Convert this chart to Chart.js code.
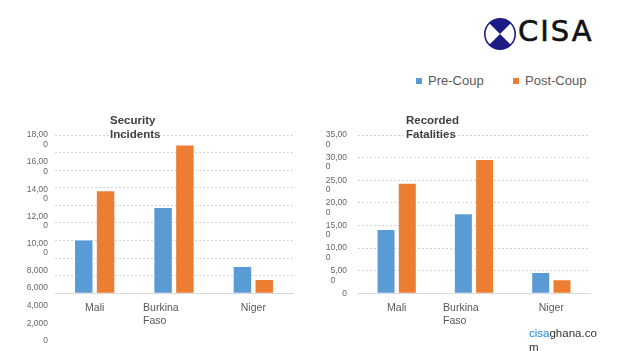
<!DOCTYPE html>
<html>
<head>
<meta charset="utf-8">
<script src="https://cdn.jsdelivr.net/npm/chart.js@4/dist/chart.umd.min.js"></script>
<style>
  body { margin: 0; background: #fff; font-family: "Liberation Sans", Arial, sans-serif; }
  #page { position: relative; width: 625px; height: 351px; overflow: hidden; background: #fff; }
  canvas { position: absolute; }
  .title { position: absolute; font-weight: bold; font-size: 11.5px; line-height: 13.6px; color: #404040; }
  .key { position: absolute; font-size: 13px; line-height: 14px; color: #595959; }
  .key i { position: absolute; left: -12px; top: 3.5px; width: 6px; height: 6px; }
  #site { position: absolute; left: 529px; top: 325.5px; font-size: 11.5px; line-height: 14px; color: #333; }
  #site span { color: #1e88e5; }
  #brand { position: absolute; left: 518px; top: 14px; font-family: "DejaVu Sans", sans-serif; font-size: 29px; letter-spacing: 2px; color: #111; -webkit-text-stroke: 0.6px #111; }
</style>
</head>
<body>
<div id="page">
  <svg style="position:absolute;left:483px;top:17px" width="34" height="34" viewBox="0 0 34 34">
    <circle cx="17" cy="17" r="15.2" fill="#fff" stroke="#1c1c85" stroke-width="1.6"/>
    <path d="M17 17 L6.25 6.25 A15.2 15.2 0 0 1 27.75 6.25 Z" fill="#1c1c85"/>
    <path d="M17 17 L6.25 27.75 A15.2 15.2 0 0 0 27.75 27.75 Z" fill="#1c1c85"/>
  </svg>
  <div id="brand">CISA</div>

  <div class="key" style="left:428px;top:74px"><i style="background:#5b9bd5"></i>Pre-Coup</div>
  <div class="key" style="left:525px;top:74px"><i style="background:#ed7d31"></i>Post-Coup</div>

  <canvas id="incidents" width="310" height="251" style="left:0;top:100px"></canvas>
  <canvas id="fatalities" width="315" height="251" style="left:310px;top:100px"></canvas>

  <div class="title" style="left:110px;top:114px">Security<br>Incidents</div>
  <div class="title" style="left:406px;top:114px">Recorded<br>Fatalities</div>

  <div id="site"><span>cisa</span>ghana.co<br>m</div>
</div>

<script>
const countries = ["Mali", "Burkina Faso", "Niger"];
const seriesNames = ["Pre-Coup", "Post-Coup"];

const incidentsPre = [6000, 9700, 3000];
const incidentsPost = [11600, 16800, 1500];
const incidentsMax = 18000;
const incidentsStep = 2000;

const fatalitiesPre = [14000, 17500, 4500];
const fatalitiesPost = [24200, 29500, 2900];
const fatalitiesMax = 35000;
const fatalitiesStep = 5000;

const blue = "#5b9bd5";
const orange = "#ed7d31";

// tick text too long for the label box loses its last digit to a second line
function tickLines(v, maxLen) {
  const s = v.toLocaleString("en-US");
  return s.length > maxLen ? [s.slice(0, -1), s.slice(-1)] : [s];
}

const axisText = {
  id: "axisText",
  afterDraw(chart, args, opts) {
    const ctx = chart.ctx;
    const area = chart.chartArea;
    const ys = chart.scales.y;
    const xs = chart.scales.x;
    ctx.save();
    ctx.textBaseline = "middle";

    // y labels
    ctx.fillStyle = "#666";
    ctx.font = '8.5px "Liberation Sans", Arial, sans-serif';
    const right = area.left - opts.gap;
    const lh = 9.5;
    let extra = 0;
    ys.ticks.slice().reverse().forEach((t) => {
      const lines = tickLines(t.value, opts.maxLen);
      let py = ys.getPixelForValue(t.value);
      if (opts.stack) py += extra * lh;
      const w = Math.max(...lines.map((l) => ctx.measureText(l).width));
      lines.forEach((l, k) => {
        if (opts.align === "right") {
          ctx.textAlign = "right";
          ctx.fillText(l, right, py + k * lh);
        } else {
          ctx.textAlign = "left";
          ctx.fillText(l, right - w, py + k * lh);
        }
      });
      extra += lines.length - 1;
    });

    // x labels
    ctx.fillStyle = "#595959";
    ctx.font = '10.5px "Liberation Sans", Arial, sans-serif';
    countries.forEach((c, i) => {
      const cx = xs.getPixelForValue(i);
      const full = ctx.measureText(c).width;
      const py = area.bottom + 15;
      if (full > 50) {
        ctx.textAlign = "left";
        c.split(" ").forEach((l, k) => ctx.fillText(l, cx - full / 2, py + k * 12.4));
      } else {
        ctx.textAlign = "center";
        ctx.fillText(c, cx, py);
      }
    });
    ctx.restore();
  },
};

function makeChart(id, pre, post, max, step, pad, textOpts) {
  return new Chart(document.getElementById(id), {
    type: "bar",
    data: {
      labels: countries,
      datasets: [
        { label: seriesNames[0], data: pre, backgroundColor: blue },
        { label: seriesNames[1], data: post, backgroundColor: orange },
      ],
    },
    options: {
      responsive: false,
      animation: false,
      layout: { padding: pad },
      datasets: { bar: { categoryPercentage: 0.55, barPercentage: 0.8 } },
      plugins: {
        legend: { display: false },
        tooltip: { enabled: false },
        axisText: textOpts,
      },
      scales: {
        x: {
          grid: { display: false, drawTicks: false },
          border: { display: true, color: "#d9d9d9", width: 1 },
          ticks: { display: false },
        },
        y: {
          min: 0,
          max: max,
          ticks: { display: false, stepSize: step },
          grid: { color: "#d4d4d4", lineWidth: 1, drawTicks: false },
          border: { display: false, dash: [2, 2] },
        },
      },
    },
    plugins: [axisText],
  });
}

makeChart("incidents", incidentsPre, incidentsPost, incidentsMax, incidentsStep,
  { left: 55, right: 17, top: 35, bottom: 57.7 }, { gap: 7, stack: true, align: "right", maxLen: 5 });

makeChart("fatalities", fatalitiesPre, fatalitiesPost, fatalitiesMax, fatalitiesStep,
  { left: 48, right: 35, top: 35, bottom: 57.7 }, { gap: 11, stack: false, align: "left", maxLen: 4 });
</script>
</body>
</html>
